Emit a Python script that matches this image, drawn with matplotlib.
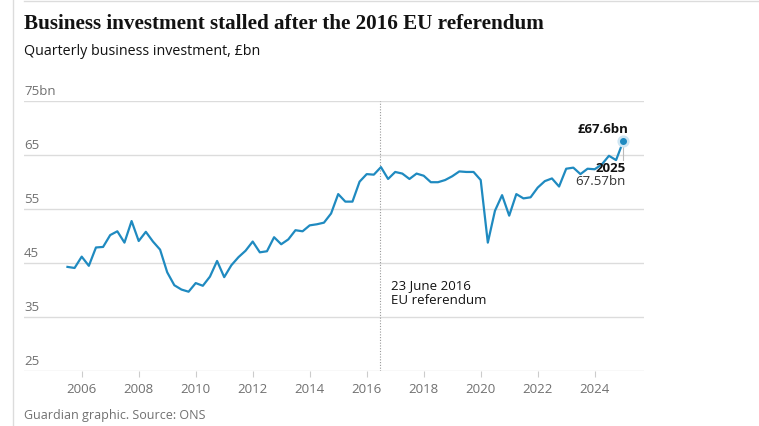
import numpy as np
import matplotlib.pyplot as plt
from matplotlib.lines import Line2D
import matplotlib.transforms as mtransforms

# quarterly business investment, £bn, 2005 Q3 .. 2025 Q1
start_year = 2005.5
investment = [
    44.3, 44.1, 46.2, 44.5, 47.9, 48.0, 50.2, 50.9, 48.8, 52.8,
    49.1, 50.8, 49.0, 47.5, 43.3, 40.9, 40.1, 39.7, 41.3, 40.8,
    42.5, 45.4, 42.4, 44.6, 46.1, 47.3, 49.0, 47.0, 47.2, 49.8,
    48.5, 49.4, 51.1, 50.9, 52.0, 52.2, 52.5, 54.2, 57.8, 56.4,
    56.4, 60.1, 61.5, 61.4, 62.8, 60.6, 61.9, 61.6, 60.6, 61.6,
    61.2, 60.0, 60.0, 60.4, 61.1, 62.0, 61.9, 61.9, 60.4, 48.8,
    54.7, 57.6, 53.8, 57.8, 57.0, 57.2, 59.0, 60.2, 60.7, 59.2,
    62.5, 62.7, 61.5, 62.5, 62.4, 63.3, 64.9, 64.1, 67.57,
]
years = start_year + 0.25 * np.arange(len(investment))

y_ticks = [25, 35, 45, 55, 65, 75]
y_labels = ["25", "35", "45", "55", "65", "75bn"]
x_ticks = list(range(2006, 2025, 2))
referendum = 2016.48

blue = "#1f8ac0"
grey_text = "#707070"
grid_col = "#dcdcdc"
dark = "#121212"
sans = ["Open Sans", "DejaVu Sans"]

fig = plt.figure(figsize=(7.59, 4.27), dpi=100)
ax = fig.add_axes([24 / 759, 55 / 427, 620 / 759, 269.7 / 427])

ax.plot(years, investment, color=blue, linewidth=1.6, solid_joinstyle="round", zorder=3)
ax.scatter([years[-1]], [investment[-1]], s=60, color="#cfe6f3", zorder=4)
ax.scatter([years[-1]], [investment[-1]], s=16, color=blue, zorder=5)

ax.set_xlim(2003.975, 2025.73)
ax.set_ylim(25, 75)

for v in y_ticks:
    ax.axhline(v, color=grid_col, linewidth=1, zorder=1)
trans = mtransforms.blended_transform_factory(ax.transAxes, ax.transData)
for v, lab in zip(y_ticks, y_labels):
    ax.text(0, v + 0.8, lab, transform=trans, ha="left", va="bottom",
            fontsize=9.5, color=grey_text, family=sans)

ax.axvline(referendum, color="#999999", linewidth=0.8, linestyle=(0, (1, 1.5)), zorder=2)
ax.text(2016.85, 39.65, "23 June 2016\nEU referendum", ha="left", va="center",
        fontsize=9.5, color=dark, family=sans, linespacing=1.25)

# end label
px = 0.72
ax.plot([years[-1], years[-1]], [investment[-1] - 0.8, investment[-1] - 3.4],
        color="#bbbbbb", linewidth=0.8, zorder=2)
ax.annotate("£67.6bn", (years[-1], investment[-1]), xytext=(5 * px, 12.7 * px),
            textcoords="offset points", ha="right", va="center",
            fontsize=9.5, fontweight="bold", color=dark, family=sans)
ax.annotate("2025", (years[-1], investment[-1]), xytext=(2.3 * px, -26 * px),
            textcoords="offset points", ha="right", va="center",
            fontsize=9.5, fontweight="bold", color=dark, family=sans)
ax.annotate("67.57bn", (years[-1], investment[-1]), xytext=(2.3 * px, -39.3 * px),
            textcoords="offset points", ha="right", va="center",
            fontsize=9.5, color="#333333", family=sans)

ax.set_yticks([])
ax.set_xticks(x_ticks)
ax.set_xticklabels([str(x) for x in x_ticks], family=sans, fontsize=9.5, color=grey_text)
ax.tick_params(axis="x", length=4, width=0.8, color="#cccccc", pad=4)
for s in ax.spines.values():
    s.set_visible(False)

fig.text(24 / 759, 1 - 29.3 / 427, "Business investment stalled after the 2016 EU referendum",
         ha="left", va="baseline", fontsize=15.2, fontweight="bold", color=dark,
         family="Liberation Serif")
fig.text(24 / 759, 1 - 55 / 427, "Quarterly business investment, £bn",
         ha="left", va="baseline", fontsize=10.3, color=dark, family=sans)
fig.text(24 / 759, 1 - 419 / 427, "Guardian graphic. Source: ONS",
         ha="left", va="baseline", fontsize=9, color=grey_text, family=sans)

# frame lines
fig.add_artist(Line2D([13 / 759, 13 / 759], [0, 1], transform=fig.transFigure,
                      color=grid_col, linewidth=1))
fig.add_artist(Line2D([24 / 759, 1], [1 - 1.5 / 427, 1 - 1.5 / 427], transform=fig.transFigure,
                      color=grid_col, linewidth=1))

fig.savefig("out.png", dpi=100)
